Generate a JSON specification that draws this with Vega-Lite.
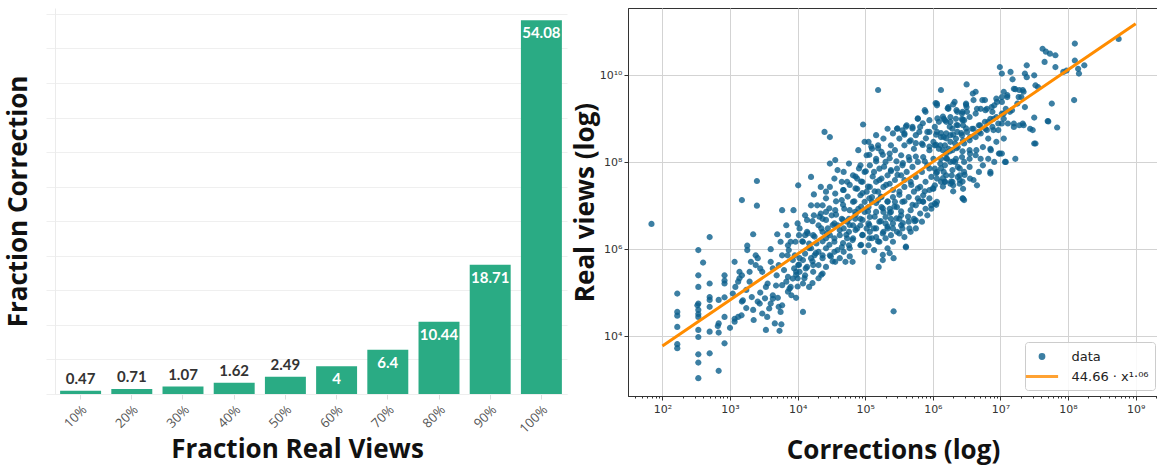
{
  "$schema": "https://vega.github.io/schema/vega-lite/v6.json",
  "background": "white",
  "padding": {"left": 5, "top": 7, "right": 0, "bottom": 6},
  "spacing": 4,
  "config": {"view": {"stroke": null}},
  "hconcat": [
    {
      "width": 512,
      "height": 386,
      "data": {"values": [
        {"fraction": "10%", "value": 0.47},
        {"fraction": "20%", "value": 0.71},
        {"fraction": "30%", "value": 1.07},
        {"fraction": "40%", "value": 1.62},
        {"fraction": "50%", "value": 2.49},
        {"fraction": "60%", "value": 4},
        {"fraction": "70%", "value": 6.4},
        {"fraction": "80%", "value": 10.44},
        {"fraction": "90%", "value": 18.71},
        {"fraction": "100%", "value": 54.08}
      ]},
      "encoding": {
        "x": {"field": "fraction", "type": "ordinal", "sort": null,
          "scale": {"paddingInner": 0.2, "paddingOuter": 0.1},
          "axis": {"title": "Fraction Real Views", "labelAngle": -45, "labelFont": "Open Sans", "labelFontSize": 13, "labelColor": "#555555",
            "tickColor": "#dddddd", "tickSize": 5, "domainColor": "#eeeeee", "labelPadding": 4,
            "titleFont": "Open Sans", "titleFontSize": 26, "titleFontWeight": "bold", "titleColor": "#111", "titlePadding": 1, "titleX": 242}},
        "y": {"field": "value", "type": "quantitative",
          "scale": {"domain": [0, 55.86], "nice": false, "zero": true},
          "axis": {"title": "Fraction Correction", "labels": false, "values": [0, 5, 10, 15, 20, 25, 30, 35, 40, 45, 50, 55],
            "grid": true, "gridColor": "#efefef", "tickColor": "#efefef", "tickSize": 9, "domainColor": "#ebebeb",
            "titleFont": "Open Sans", "titleFontSize": 26, "titleFontWeight": "bold", "titleColor": "#111", "titlePadding": 14}}
      },
      "layer": [
        {"mark": {"type": "bar", "color": "#2aab84"}},
        {"transform": [{"filter": "datum.value < 3"}],
          "mark": {"type": "text", "dy": -12, "font": "Lato", "fontWeight": "bold", "fontSize": 15, "color": "#333333"},
          "encoding": {"text": {"field": "value", "type": "quantitative", "format": "~g"}}},
        {"transform": [{"filter": "datum.value >= 3"}],
          "mark": {"type": "text", "dy": 13, "font": "Lato", "fontWeight": "bold", "fontSize": 15, "color": "white"},
          "encoding": {"text": {"field": "value", "type": "quantitative", "format": "~g"}}}
      ]
    },
    {
      "width": 530,
      "height": 388,
      "view": {"stroke": "#333333", "strokeWidth": 1},
      "layer": [
        {
          "data": {"values": [
            {"corrections":6.9e1,"views":3.8e6},{"corrections":5.0e2,"views":1.9e6},{"corrections":3.4e2,"views":9.5e5},{"corrections":3.4e2,"views":2.5e5},
            {"corrections":3.4e2,"views":1.35e5},{"corrections":3.4e2,"views":5.6e4},{"corrections":3.4e2,"views":4.0e4},{"corrections":3.4e2,"views":3.2e4},
            {"corrections":3.4e2,"views":2.75e4},{"corrections":3.4e2,"views":1.38e4},{"corrections":3.4e2,"views":9.5e3},{"corrections":3.4e2,"views":3.8e3},
            {"corrections":3.4e2,"views":2.45e3},{"corrections":3.4e2,"views":1.07e3},{"corrections":1.66e2,"views":9.5e4},{"corrections":1.66e2,"views":3.6e4},
            {"corrections":1.66e2,"views":2.95e4},{"corrections":1.66e2,"views":1.62e4},{"corrections":1.66e2,"views":6.5e3},{"corrections":1.66e2,"views":5.25e3},
            {"corrections":5.0e2,"views":1.62e5},{"corrections":5.0e2,"views":7.9e4},{"corrections":5.0e2,"views":6.8e4},{"corrections":5.0e2,"views":4.7e4},
            {"corrections":5.0e2,"views":1.26e4},{"corrections":5.0e2,"views":4.0e3},{"corrections":6.8e2,"views":1.58e3},{"corrections":4.0e2,"views":4.9e5},
            {"corrections":8.3e2,"views":2.5e5},{"corrections":8.3e2,"views":1.62e5},{"corrections":8.3e2,"views":7.8e4},{"corrections":8.3e2,"views":2.75e4},
            {"corrections":8.3e2,"views":6.8e3},{"corrections":6.8e2,"views":6.8e4},{"corrections":6.8e2,"views":1.95e4},{"corrections":6.8e2,"views":1.2e4},
            {"corrections":1.1e3,"views":9.5e4},{"corrections":1.17e3,"views":2.14e4},{"corrections":1.0e3,"views":1.55e4},
            {"corrections":1.5e3,"views":1.35e7},{"corrections":2.5e3,"views":3.7e7},{"corrections":2.5e3,"views":1.0e7},{"corrections":2.2e3,"views":2.2e6},
            {"corrections":1.8e3,"views":1.2e6},{"corrections":1.8e3,"views":9.5e5},{"corrections":2.4e3,"views":7.2e5},{"corrections":2.57e3,"views":6.2e5},
            {"corrections":2.4e3,"views":4.3e5},{"corrections":2.8e3,"views":3.6e5},{"corrections":1.95e3,"views":3.0e5},{"corrections":1.5e3,"views":2.5e5},
            {"corrections":1.38e3,"views":2.14e5},{"corrections":1.32e3,"views":1.78e5},{"corrections":1.2e3,"views":1.35e5},{"corrections":1.74e3,"views":1.15e5},
            {"corrections":2.1e3,"views":7.9e4},{"corrections":2.57e3,"views":6.2e4},{"corrections":3.3e3,"views":7.4e4},{"corrections":1.5e3,"views":6.2e4},
            {"corrections":1.74e3,"views":4.4e4},{"corrections":1.32e3,"views":2.75e4},{"corrections":1.48e3,"views":3.0e4},{"corrections":2.24e3,"views":2.34e4},
            {"corrections":2.2e3,"views":4.0e4},{"corrections":3.55e3,"views":2.75e4},{"corrections":4.6e3,"views":1.95e4},{"corrections":3.4e3,"views":1.38e4},
            {"corrections":5.4e3,"views":1.32e4},{"corrections":2.75e3,"views":5.6e4},{"corrections":4.0e3,"views":5.6e4},{"corrections":5.6e3,"views":3.6e4},
            {"corrections":5.25e3,"views":4.7e4},{"corrections":4.3e3,"views":8.7e4},{"corrections":2.8e3,"views":1.0e5},{"corrections":3.6e3,"views":1.62e5},
            {"corrections":4.0e3,"views":1.0e6},{"corrections":5.0e3,"views":2.2e6},{"corrections":5.6e3,"views":1.48e6},{"corrections":5.9e3,"views":7.9e6},
            {"corrections":7.2e3,"views":2.1e6},{"corrections":7.9e3,"views":1.48e6},{"corrections":7.4e3,"views":9.5e5},{"corrections":5.9e3,"views":7.2e5},
            {"corrections":5.25e3,"views":4.3e5},{"corrections":6.3e3,"views":3.3e5},{"corrections":7.2e3,"views":2.3e5},{"corrections":6.8e3,"views":1.78e5},
            {"corrections":7.9e3,"views":1.35e5},{"corrections":8.1e3,"views":8.7e4},{"corrections":9.5e3,"views":7.6e4},{"corrections":7.2e3,"views":1.05e5},
            {"corrections":5.9e3,"views":1.48e5},{"corrections":4.8e3,"views":1.45e5},{"corrections":4.9e3,"views":2.5e5},{"corrections":4.3e3,"views":3.6e5},
            {"corrections":4.0e3,"views":5.1e5},{"corrections":1.2e4,"views":3.6e4},{"corrections":8.7e3,"views":7.9e6},{"corrections":1.02e4,"views":2.95e7},
            {"corrections":1.0e4,"views":3.9e6},{"corrections":1.05e4,"views":2.1e6},{"corrections":9.1e3,"views":7.2e5},{"corrections":1.02e4,"views":4.3e5},
            {"corrections":1.07e4,"views":3.0e5},{"corrections":1.0e4,"views":2.14e5},{"corrections":1.2e4,"views":1.62e5},{"corrections":1.48e4,"views":1.35e5},
            {"corrections":1.29e4,"views":2.5e5},{"corrections":1.38e4,"views":3.9e5},{"corrections":1.2e4,"views":5.6e5},{"corrections":1.58e4,"views":6.2e5},
            {"corrections":1.29e4,"views":7.9e5},{"corrections":1.58e4,"views":1.05e6},{"corrections":1.9e4,"views":1.35e6},{"corrections":2.34e4,"views":7.2e5},
            {"corrections":2.04e4,"views":4.3e5},{"corrections":1.7e4,"views":3.0e5},{"corrections":2.04e4,"views":2.14e5},{"corrections":2.34e4,"views":2.75e5},
            {"corrections":2.63e4,"views":3.9e5},{"corrections":1.7e4,"views":2.1e6},{"corrections":1.38e4,"views":2.5e6},{"corrections":1.29e4,"views":6.0e6},
            {"corrections":1.58e4,"views":1.02e7},{"corrections":1.74e4,"views":1.82e7},{"corrections":1.58e4,"views":4.6e7},{"corrections":2.2e4,"views":2.7e7},
            {"corrections":2.5e4,"views":5.0e8},{"corrections":3.0e4,"views":3.8e8},{"corrections":2.63e4,"views":2.1e7},{"corrections":3.0e4,"views":9.3e7},
            {"corrections":3.6e4,"views":1.12e8},{"corrections":3.9e4,"views":6.6e7},{"corrections":3.5e4,"views":4.2e7},{"corrections":2.34e4,"views":1.02e7},
            {"corrections":2.63e4,"views":7.2e6},{"corrections":2.34e4,"views":5.0e6},{"corrections":3.2e4,"views":6.0e6},{"corrections":3.6e4,"views":7.9e6},
            {"corrections":3.5e4,"views":3.9e6},{"corrections":2.8e4,"views":3.0e6},{"corrections":2.63e4,"views":1.78e6},{"corrections":4.2e4,"views":2.1e6},
            {"corrections":3.5e4,"views":1.48e6},{"corrections":4.8e4,"views":3.0e6},{"corrections":5.4e4,"views":1.78e6},{"corrections":4.5e4,"views":1.12e6},
            {"corrections":3.5e4,"views":8.7e5},{"corrections":3.6e4,"views":5.1e5},{"corrections":5.1e4,"views":5.1e5},{"corrections":6.5e4,"views":5.1e5},
            {"corrections":4.8e4,"views":2.3e7},{"corrections":4.5e4,"views":1.35e7},{"corrections":4.9e4,"views":8.5e6},{"corrections":5.75e4,"views":5.0e6},
            {"corrections":7.1e4,"views":7.2e6},{"corrections":6.6e4,"views":1.23e7},{"corrections":7.6e4,"views":2.45e7},{"corrections":7.9e4,"views":1.9e8},
            {"corrections":9.3e4,"views":7.4e8},{"corrections":9.8e4,"views":2.95e8},{"corrections":1.05e5,"views":1.45e8},{"corrections":8.5e4,"views":8.5e7},
            {"corrections":9.8e4,"views":6.0e7},{"corrections":7.6e4,"views":4.2e7},{"corrections":9.1e4,"views":3.55e7},{"corrections":8.5e4,"views":1.74e7},
            {"corrections":9.8e4,"views":1.23e7},{"corrections":7.9e4,"views":8.5e6},{"corrections":8.5e4,"views":5.0e6},{"corrections":7.6e4,"views":3.0e6},
            {"corrections":9.1e4,"views":2.1e6},{"corrections":8.5e4,"views":1.23e6},{"corrections":9.8e4,"views":8.7e5},{"corrections":1.35e5,"views":9.5e5},
            {"corrections":1.58e5,"views":3.9e5},{"corrections":1.82e5,"views":5.6e5},{"corrections":2.63e5,"views":6.2e5},{"corrections":4.0e5,"views":1.1e6},
            {"corrections":2.63e5,"views":3.7e4},{"corrections":1.55e5,"views":4.6e9},{"corrections":1.12e5,"views":2.95e8},{"corrections":1.26e5,"views":2.04e8},
            {"corrections":1.55e5,"views":2.45e8},{"corrections":1.86e5,"views":3.5e8},{"corrections":1.74e5,"views":1.74e8},{"corrections":1.45e5,"views":1.2e8},
            {"corrections":1.17e5,"views":8.5e7},{"corrections":1.35e5,"views":6.0e7},{"corrections":1.62e5,"views":7.1e7},{"corrections":2.0e5,"views":1.02e8},
            {"corrections":2.3e5,"views":1.58e8},{"corrections":2.4e5,"views":2.45e8},{"corrections":2.95e5,"views":5.9e8},{"corrections":3.55e5,"views":5.4e8},
            {"corrections":4.1e5,"views":7.1e8},{"corrections":3.2e5,"views":3.5e8},{"corrections":2.75e5,"views":1.9e8},{"corrections":3.4e5,"views":1.45e8},
            {"corrections":3.8e5,"views":2.45e8},{"corrections":4.7e5,"views":3.2e8},{"corrections":5.6e5,"views":4.2e8},{"corrections":6.0e5,"views":1.0e9},
            {"corrections":6.5e5,"views":6.5e8},{"corrections":7.8e5,"views":1.45e9},{"corrections":8.3e5,"views":5.0e8},{"corrections":6.9e5,"views":2.7e8},
            {"corrections":5.25e5,"views":2.04e8},{"corrections":4.4e5,"views":1.32e8},{"corrections":3.55e5,"views":8.5e7},{"corrections":2.95e5,"views":7.1e7},
            {"corrections":2.4e5,"views":6.6e7},{"corrections":2.14e5,"views":5.0e7},{"corrections":1.74e5,"views":4.2e7},{"corrections":1.45e5,"views":3.55e7},
            {"corrections":1.17e5,"views":2.7e7},{"corrections":1.05e5,"views":2.1e7},{"corrections":1.26e5,"views":1.58e7},{"corrections":1.55e5,"views":2.1e7},
            {"corrections":1.86e5,"views":2.7e7},{"corrections":2.3e5,"views":3.2e7},{"corrections":2.75e5,"views":3.9e7},{"corrections":3.4e5,"views":5.0e7},
            {"corrections":4.1e5,"views":6.0e7},{"corrections":5.0e5,"views":7.8e7},{"corrections":6.0e5,"views":1.02e8},{"corrections":7.2e5,"views":1.32e8},
            {"corrections":8.9e5,"views":1.9e8},{"corrections":1.07e6,"views":2.45e8},{"corrections":1.02e6,"views":1.2e8},{"corrections":8.3e5,"views":8.5e7},
            {"corrections":6.9e5,"views":6.0e7},{"corrections":5.6e5,"views":4.6e7},{"corrections":4.7e5,"views":3.55e7},{"corrections":3.8e5,"views":2.7e7},
            {"corrections":3.2e5,"views":2.1e7},{"corrections":2.57e5,"views":1.58e7},{"corrections":2.14e5,"views":1.23e7},{"corrections":1.74e5,"views":9.3e6},
            {"corrections":1.45e5,"views":7.2e6},{"corrections":1.17e5,"views":5.5e6},{"corrections":1.12e5,"views":3.9e6},{"corrections":1.35e5,"views":3.0e6},
            {"corrections":1.62e5,"views":4.3e6},{"corrections":2.0e5,"views":5.5e6},{"corrections":2.4e5,"views":7.2e6},{"corrections":2.95e5,"views":9.3e6},
            {"corrections":3.55e5,"views":1.23e7},{"corrections":4.4e5,"views":1.58e7},{"corrections":5.25e5,"views":2.1e7},{"corrections":6.5e5,"views":2.7e7},
            {"corrections":7.8e5,"views":3.55e7},{"corrections":9.5e5,"views":4.6e7},{"corrections":1.15e6,"views":6.0e7},{"corrections":1.15e6,"views":1.23e7},
            {"corrections":9.5e5,"views":1.02e7},{"corrections":7.8e5,"views":8.5e6},{"corrections":6.5e5,"views":6.6e6},{"corrections":5.25e5,"views":5.0e6},
            {"corrections":4.4e5,"views":4.3e6},{"corrections":3.55e5,"views":3.0e6},{"corrections":2.95e5,"views":2.5e6},{"corrections":2.4e5,"views":2.1e6},
            {"corrections":2.0e5,"views":1.78e6},{"corrections":1.62e5,"views":1.48e6},{"corrections":1.26e5,"views":1.78e6},{"corrections":2.14e5,"views":3.0e6},
            {"corrections":2.57e5,"views":3.9e6},{"corrections":3.2e5,"views":5.0e6},{"corrections":4.7e5,"views":7.9e6},{"corrections":5.6e5,"views":1.02e7},
            {"corrections":5.6e5,"views":4.6e6},{"corrections":5.6e5,"views":3.0e6},{"corrections":4.7e5,"views":2.5e6},{"corrections":3.8e5,"views":1.9e6},
            {"corrections":6.0e5,"views":1.48e7},{"corrections":7.2e5,"views":1.74e7},{"corrections":8.9e5,"views":2.3e7},{"corrections":1.07e6,"views":2.95e7},
            {"corrections":1.32e6,"views":3.55e7},{"corrections":1.58e6,"views":5.0e7},{"corrections":1.95e6,"views":6.6e7},{"corrections":1.95e6,"views":3.55e7},
            {"corrections":2.5e6,"views":3.2e7},{"corrections":2.34e6,"views":4.6e7},{"corrections":2.9e6,"views":6.0e7},{"corrections":3.5e6,"views":7.8e7},
            {"corrections":4.0e6,"views":3.9e7},{"corrections":4.8e6,"views":6.0e7},{"corrections":5.5e6,"views":8.5e7},{"corrections":5.1e6,"views":1.2e8},
            {"corrections":4.3e6,"views":1.45e8},{"corrections":3.5e6,"views":1.2e8},{"corrections":2.9e6,"views":1.02e8},{"corrections":2.34e6,"views":7.8e7},
            {"corrections":2.2e6,"views":1.2e8},{"corrections":1.82e6,"views":1.02e8},{"corrections":1.51e6,"views":8.5e7},{"corrections":1.32e6,"views":1.2e8},
            {"corrections":1.58e6,"views":1.58e8},{"corrections":1.95e6,"views":1.9e8},{"corrections":2.34e6,"views":2.24e8},{"corrections":2.9e6,"views":2.7e8},
            {"corrections":3.5e6,"views":3.2e8},{"corrections":4.3e6,"views":3.8e8},{"corrections":5.1e6,"views":4.6e8},{"corrections":6.3e6,"views":5.5e8},
            {"corrections":7.6e6,"views":6.5e8},{"corrections":9.3e6,"views":7.8e8},{"corrections":8.7e6,"views":1.1e9},{"corrections":7.1e6,"views":1.0e9},
            {"corrections":5.9e6,"views":8.5e8},{"corrections":4.8e6,"views":7.1e8},{"corrections":4.0e6,"views":5.9e8},{"corrections":3.2e6,"views":5.0e8},
            {"corrections":2.7e6,"views":4.2e8},{"corrections":2.2e6,"views":3.5e8},{"corrections":1.82e6,"views":2.95e8},{"corrections":1.51e6,"views":2.45e8},
            {"corrections":1.23e6,"views":2.04e8},{"corrections":1.32e6,"views":3.8e8},{"corrections":1.58e6,"views":4.6e8},{"corrections":1.95e6,"views":5.9e8},
            {"corrections":2.34e6,"views":7.1e8},{"corrections":2.9e6,"views":9.3e8},{"corrections":3.5e6,"views":1.1e9},{"corrections":4.3e6,"views":1.32e9},
            {"corrections":5.1e6,"views":1.7e9},{"corrections":6.3e6,"views":1.7e9},{"corrections":7.6e6,"views":1.45e9},{"corrections":3.2e6,"views":1.45e9},
            {"corrections":2.7e6,"views":1.32e9},{"corrections":2.2e6,"views":1.0e9},{"corrections":1.82e6,"views":1.1e9},{"corrections":1.51e6,"views":9.3e8},
            {"corrections":1.23e6,"views":8.5e8},{"corrections":1.07e6,"views":6.5e8},{"corrections":1.15e6,"views":2.04e9},{"corrections":2.1e6,"views":2.45e9},
            {"corrections":1.7e6,"views":1.86e9},{"corrections":3.1e6,"views":2.24e9},{"corrections":4.0e6,"views":2.7e9},{"corrections":3.16e6,"views":6.2e9},
            {"corrections":1.32e6,"views":4.6e9},{"corrections":4.3e6,"views":4.2e9},{"corrections":5.9e6,"views":2.7e9},{"corrections":8.7e6,"views":2.9e9},
            {"corrections":8.1e6,"views":2.04e9},{"corrections":1.05e7,"views":2.45e9},{"corrections":1.26e7,"views":3.16e9},{"corrections":1.12e7,"views":4.2e9},
            {"corrections":9.8e6,"views":1.55e10},{"corrections":1.05e7,"views":1.1e10},{"corrections":1.41e7,"views":1.2e10},{"corrections":1.51e7,"views":8.1e9},
            {"corrections":1.66e7,"views":4.8e9},{"corrections":1.9e7,"views":4.6e9},{"corrections":2.14e7,"views":4.6e9},{"corrections":2.04e7,"views":3.16e9},
            {"corrections":2.3e7,"views":1.1e10},{"corrections":2.45e7,"views":1.7e10},{"corrections":2.45e7,"views":9.1e9},{"corrections":3.16e7,"views":1.0e10},
            {"corrections":3.3e7,"views":5.9e9},{"corrections":2.3e7,"views":1.86e9},{"corrections":1.78e7,"views":2.24e9},{"corrections":1.38e7,"views":1.45e9},
            {"corrections":1.2e7,"views":1.7e9},{"corrections":1.05e7,"views":1.32e9},{"corrections":1.12e7,"views":1.0e9},{"corrections":9.3e6,"views":5.5e8},
            {"corrections":1.12e7,"views":3.5e8},{"corrections":1.05e7,"views":1.58e8},{"corrections":1.2e7,"views":1.02e8},{"corrections":7.1e6,"views":2.04e8},
            {"corrections":8.7e6,"views":2.95e8},{"corrections":6.6e6,"views":3.5e8},{"corrections":1.29e7,"views":7.8e8},{"corrections":1.58e7,"views":6.5e8},
            {"corrections":1.9e7,"views":7.1e8},{"corrections":2.14e7,"views":7.8e8},{"corrections":2.75e7,"views":5.9e8},{"corrections":3.0e7,"views":5.5e8},
            {"corrections":3.16e7,"views":1.07e9},{"corrections":3.16e7,"views":2.7e8},{"corrections":5.0e7,"views":8.9e8},{"corrections":5.75e7,"views":2.24e9},
            {"corrections":6.9e7,"views":6.3e8},{"corrections":3.6e7,"views":5.4e9},{"corrections":4.2e7,"views":4.1e10},{"corrections":4.7e7,"views":3.5e10},
            {"corrections":5.4e7,"views":3.16e10},{"corrections":6.5e7,"views":2.9e10},{"corrections":4.5e7,"views":2.04e10},{"corrections":6.5e7,"views":1.55e10},
            {"corrections":8.5e7,"views":1.2e10},{"corrections":9.5e7,"views":1.29e10},{"corrections":1.26e8,"views":5.4e10},{"corrections":1.26e8,"views":2.2e10},
            {"corrections":1.41e8,"views":1.41e10},{"corrections":1.45e8,"views":1.1e10},{"corrections":1.74e8,"views":1.7e10},{"corrections":1.23e8,"views":2.7e9},
            {"corrections":5.6e8,"views":6.9e10},
            {"corrections":7.2e3,"views":1.23e6},{"corrections":8.5e3,"views":5.6e5},{"corrections":8.9e3,"views":3.6e5},{"corrections":1.07e4,"views":6.2e5},
            {"corrections":1.29e4,"views":2.1e6},{"corrections":1.48e4,"views":1.35e6},{"corrections":1.78e4,"views":7.2e5},{"corrections":1.7e4,"views":4.3e5},
            {"corrections":2.04e4,"views":8.7e5},{"corrections":2.63e4,"views":1.05e6},{"corrections":3.0e4,"views":7.2e5},{"corrections":4.2e4,"views":6.2e5},
            {"corrections":4.8e4,"views":8.7e5},{"corrections":5.75e4,"views":1.23e6},{"corrections":6.6e4,"views":1.78e6},{"corrections":5.75e4,"views":2.5e6},
            {"corrections":6.6e4,"views":3.55e6},{"corrections":5.4e4,"views":4.3e6},{"corrections":4.5e4,"views":5.0e6},{"corrections":3.9e4,"views":3.55e6},
            {"corrections":2.34e4,"views":2.5e6},{"corrections":2.04e4,"views":3.55e6},{"corrections":3.0e4,"views":2.1e6},{"corrections":9.8e4,"views":7.2e6},
            {"corrections":1.12e5,"views":9.3e6},{"corrections":1.26e5,"views":1.23e7},{"corrections":1.55e5,"views":1.35e7},{"corrections":1.74e5,"views":1.58e7},
            {"corrections":1.86e5,"views":7.2e6},{"corrections":2.0e5,"views":3.9e6},{"corrections":2.4e5,"views":5.0e6},{"corrections":2.3e5,"views":8.5e6},
            {"corrections":2.75e5,"views":1.23e7},{"corrections":3.4e5,"views":6.0e6},{"corrections":3.4e5,"views":3.55e6},{"corrections":2.57e5,"views":1.48e6},
            {"corrections":2.14e5,"views":1.05e6},{"corrections":1.86e5,"views":2.5e6},{"corrections":1.45e5,"views":1.9e6},{"corrections":1.17e5,"views":2.5e6},
            {"corrections":1.05e5,"views":3.0e6},{"corrections":1.12e5,"views":1.23e6},{"corrections":8.5e4,"views":3.55e6},{"corrections":7.1e4,"views":5.0e6},
            {"corrections":7.2e5,"views":1.23e7},{"corrections":8.3e5,"views":6.0e6},{"corrections":6.9e5,"views":4.3e6},{"corrections":9.5e5,"views":8.5e6},
            {"corrections":1.07e6,"views":1.12e7},{"corrections":1.82e6,"views":3.2e7},{"corrections":2.9e6,"views":1.35e7},{"corrections":2.5e6,"views":5.0e7},
            {"corrections":1.51e6,"views":3.55e7},{"corrections":7.1e6,"views":5.5e7},{"corrections":6.6e6,"views":1.2e8},{"corrections":9.8e6,"views":1.58e8},
            {"corrections":8.1e6,"views":1.02e8},
            {"corrections":5.75e4,"views":9.3e7},{"corrections":4.8e4,"views":6.0e7},{"corrections":6.6e4,"views":5.0e7},{"corrections":5.4e4,"views":3.55e7},
            {"corrections":4.5e4,"views":3.55e7},{"corrections":3.0e4,"views":2.7e7},{"corrections":3.6e4,"views":1.9e7},{"corrections":2.63e4,"views":1.48e7},
            {"corrections":1.95e4,"views":1.02e7},{"corrections":1.74e4,"views":6.0e6},{"corrections":2.2e4,"views":6.6e6},{"corrections":1.38e4,"views":4.7e6},
            {"corrections":1.07e4,"views":3.0e6},{"corrections":9.3e3,"views":1.48e6},{"corrections":1.2e4,"views":1.48e6},{"corrections":1.45e5,"views":4.2e8},
            {"corrections":2.14e5,"views":5.9e8},{"corrections":2.57e5,"views":4.6e8},{"corrections":3.8e5,"views":4.6e8},{"corrections":5.0e5,"views":6.5e8},
            {"corrections":3.3e2,"views":5.1e4},{"corrections":6.6e2,"views":1.7e4},{"corrections":8.3e2,"views":1.9e5},{"corrections":1.17e3,"views":5.1e5},
            {"corrections":1.17e3,"views":2.5e4},{"corrections":1.38e3,"views":3.0e5},{"corrections":1.55e3,"views":6.6e4},{"corrections":2.04e3,"views":5.1e5},
            {"corrections":1.95e3,"views":1.78e5},{"corrections":3.0e3,"views":3.0e5},{"corrections":3.0e3,"views":3.3e4},{"corrections":3.4e3,"views":1.35e5},
            {"corrections":3.8e3,"views":4.3e4},{"corrections":4.3e3,"views":7.2e4},{"corrections":5.1e3,"views":7.6e4},{"corrections":5.75e3,"views":1.86e4},
            {"corrections":5.9e3,"views":5.1e4},{"corrections":6.8e3,"views":3.55e6},{"corrections":7.1e3,"views":7.2e5},{"corrections":7.6e3,"views":1.23e5},
            {"corrections":8.5e3,"views":2.1e5},{"corrections":9.5e3,"views":3.0e5},
            {"corrections":1.1e6,"views":2.3e9},{"corrections":1.66e6,"views":1.74e9},{"corrections":2.0e6,"views":2.14e9},{"corrections":2.24e6,"views":1.58e9},
            {"corrections":2.75e6,"views":1.45e9},{"corrections":3.1e6,"views":2.1e9},{"corrections":7.6e5,"views":1.58e9},{"corrections":6.0e5,"views":1.02e9},
            {"corrections":7.1e5,"views":7.9e8},{"corrections":8.9e5,"views":9.3e8},{"corrections":1.17e6,"views":1.02e9},{"corrections":1.41e6,"views":1.12e9},
            {"corrections":1.58e6,"views":8.5e8},{"corrections":1.78e6,"views":6.6e8},{"corrections":2.24e6,"views":7.2e8},{"corrections":2.75e6,"views":9.3e8},
            {"corrections":3.1e6,"views":6.0e8},{"corrections":2.63e6,"views":4.7e8},{"corrections":2.0e6,"views":4.3e8},{"corrections":1.58e6,"views":3.55e8},
            {"corrections":1.32e6,"views":4.7e8},{"corrections":1.12e6,"views":4.3e8},{"corrections":8.9e5,"views":5.0e8},{"corrections":7.9e5,"views":3.55e8},
            {"corrections":6.3e5,"views":5.0e8},{"corrections":5.0e5,"views":6.0e8},{"corrections":4.0e5,"views":6.6e8},{"corrections":3.0e5,"views":6.0e8},
            {"corrections":3.8e5,"views":4.3e8},{"corrections":4.5e5,"views":3.0e8},{"corrections":5.6e5,"views":2.75e8},{"corrections":7.1e5,"views":2.5e8},
            {"corrections":8.9e5,"views":2.3e8},{"corrections":1.12e6,"views":2.5e8},{"corrections":1.41e6,"views":1.9e8},{"corrections":1.78e6,"views":1.78e8},
            {"corrections":2.24e6,"views":2.1e8},{"corrections":2.75e6,"views":1.78e8},{"corrections":3.5e6,"views":1.9e8},{"corrections":1.58e6,"views":1.23e8},
            {"corrections":2.0e6,"views":1.05e8},{"corrections":2.5e6,"views":7.2e7},{"corrections":2.95e6,"views":5.1e7},{"corrections":2.75e6,"views":3.6e7},
            {"corrections":1.86e6,"views":3.6e7},{"corrections":1.41e6,"views":4.3e7},{"corrections":1.12e6,"views":5.6e7},{"corrections":8.9e5,"views":7.2e7},
            {"corrections":1.32e6,"views":7.2e7},{"corrections":7.6e5,"views":1.05e8},{"corrections":5.6e5,"views":1.35e8},{"corrections":4.5e5,"views":1.12e8},
            {"corrections":3.6e5,"views":9.5e7},{"corrections":2.9e5,"views":1.05e8},{"corrections":2.3e5,"views":1.23e8},{"corrections":1.82e5,"views":1.48e8},
            {"corrections":1.55e5,"views":2.1e8},{"corrections":1.23e5,"views":2.3e8},{"corrections":1.15e5,"views":1.48e8},{"corrections":1.45e5,"views":1.05e8},
            {"corrections":1.9e5,"views":7.9e7},{"corrections":2.4e5,"views":6.2e7},{"corrections":3.0e5,"views":5.1e7},{"corrections":3.8e5,"views":3.9e7},
            {"corrections":4.8e5,"views":3.0e7},{"corrections":6.0e5,"views":2.5e7},{"corrections":7.6e5,"views":2.14e7},{"corrections":8.9e5,"views":1.48e7},
            {"corrections":6.3e5,"views":1.26e7},{"corrections":5.0e5,"views":1.05e7},{"corrections":3.8e5,"views":1.26e7},{"corrections":3.2e5,"views":1.78e7},
            {"corrections":2.57e5,"views":2.3e7},{"corrections":2.04e5,"views":3.0e7},{"corrections":1.62e5,"views":3.9e7},{"corrections":1.29e5,"views":4.7e7},
            {"corrections":1.02e5,"views":6.2e7},{"corrections":8.1e4,"views":7.2e7},{"corrections":7.2e4,"views":4.7e7},{"corrections":8.7e4,"views":3.6e7},
            {"corrections":1.1e5,"views":2.75e7},{"corrections":1.38e5,"views":2.14e7},{"corrections":1.7e5,"views":1.62e7},{"corrections":2.14e5,"views":1.26e7},
            {"corrections":2.7e5,"views":9.5e6},{"corrections":3.4e5,"views":7.4e6},{"corrections":4.3e5,"views":5.6e6},{"corrections":5.4e5,"views":4.4e6},
            {"corrections":4.5e5,"views":3.0e6},{"corrections":3.6e5,"views":4.0e6},{"corrections":2.9e5,"views":5.1e6},{"corrections":2.3e5,"views":6.8e6},
            {"corrections":1.82e5,"views":8.7e6},{"corrections":1.45e5,"views":1.15e7},{"corrections":1.15e5,"views":1.48e7},{"corrections":9.1e4,"views":1.95e7},
            {"corrections":7.2e4,"views":2.5e7},{"corrections":5.9e4,"views":3.0e7},{"corrections":4.7e4,"views":2.3e7},{"corrections":5.5e4,"views":1.62e7},
            {"corrections":6.9e4,"views":1.26e7},{"corrections":8.7e4,"views":9.5e6},{"corrections":1.1e5,"views":7.4e6},{"corrections":1.38e5,"views":5.6e6},
            {"corrections":1.7e5,"views":4.4e6},{"corrections":2.14e5,"views":3.3e6},{"corrections":1.82e5,"views":2.3e6},{"corrections":1.45e5,"views":3.0e6},
            {"corrections":1.15e5,"views":3.6e6},{"corrections":9.1e4,"views":4.7e6},{"corrections":7.2e4,"views":6.2e6},{"corrections":5.9e4,"views":7.9e6},
            {"corrections":4.7e4,"views":1.05e7},{"corrections":3.7e4,"views":1.26e7},{"corrections":2.95e4,"views":8.7e6},{"corrections":3.7e4,"views":6.2e6},
            {"corrections":4.7e4,"views":4.7e6},{"corrections":5.9e4,"views":3.6e6},{"corrections":7.2e4,"views":2.75e6},{"corrections":9.1e4,"views":2.14e6},
            {"corrections":1.15e5,"views":1.78e6},{"corrections":1.55e5,"views":1.51e6},{"corrections":8.7e4,"views":1.26e6},{"corrections":6.5e4,"views":1.62e6},
            {"corrections":5.25e4,"views":2.14e6},{"corrections":4.2e4,"views":2.75e6},{"corrections":3.3e4,"views":3.6e6},{"corrections":2.63e4,"views":4.7e6},
            {"corrections":2.1e4,"views":5.6e6},{"corrections":1.66e4,"views":4.4e6},{"corrections":2.24e4,"views":3.0e6},{"corrections":2.75e4,"views":2.3e6},
            {"corrections":3.5e4,"views":1.78e6},{"corrections":4.7e4,"views":1.38e6},{"corrections":5.9e4,"views":1.05e6},{"corrections":3.9e4,"views":9.5e5},
            {"corrections":2.95e4,"views":1.26e6},{"corrections":2.34e4,"views":1.51e6},{"corrections":1.78e4,"views":1.95e6},{"corrections":1.41e4,"views":2.3e6},
            {"corrections":1.17e4,"views":1.51e6},{"corrections":1.48e4,"views":1.05e6},{"corrections":1.86e4,"views":8.1e5},{"corrections":2.34e4,"views":6.2e5},
            {"corrections":3.1e4,"views":6.8e5},{"corrections":1.66e4,"views":5.25e5},{"corrections":1.32e4,"views":3.6e5},{"corrections":1.05e4,"views":4.4e5},
            {"corrections":9.5e3,"views":2.57e5},{"corrections":1.26e4,"views":2.14e5},{"corrections":1.66e4,"views":1.66e5},{"corrections":2.24e4,"views":2.57e5},
            {"corrections":1.0e4,"views":1.38e5},{"corrections":3.3e4,"views":5.25e5},{"corrections":5.9e4,"views":6.8e5},{"corrections":1.82e5,"views":7.4e5},
            {"corrections":2.3e5,"views":8.1e5},{"corrections":4.0e5,"views":1.15e6},{"corrections":3.2e5,"views":2.3e6},{"corrections":2.57e5,"views":3.0e6},
            {"corrections":7.1e5,"views":1.26e7},{"corrections":1.0e6,"views":2.5e7},{"corrections":1.41e6,"views":2.75e7},{"corrections":2.0e6,"views":2.14e7},
            {"corrections":1.12e6,"views":1.05e7},{"corrections":2.75e6,"views":1.48e7},
            {"corrections":1.15e6,"views":2.24e9},{"corrections":3.9e6,"views":3.8e9},{"corrections":2.3e6,"views":1.45e9},{"corrections":1.7e6,"views":1.7e9},
            {"corrections":1.45e6,"views":1.0e9},{"corrections":1.82e6,"views":8.5e8},{"corrections":2.7e6,"views":1.0e9},{"corrections":3.16e6,"views":1.86e9},
            {"corrections":4.5e6,"views":1.7e9},{"corrections":5.4e6,"views":2.7e9},{"corrections":6.0e6,"views":1.58e9},{"corrections":7.4e6,"views":1.86e9},
            {"corrections":8.9e6,"views":2.45e9},{"corrections":1.05e7,"views":3.16e9},{"corrections":1.26e7,"views":3.5e9},{"corrections":1.58e7,"views":4.9e9},
            {"corrections":1.86e7,"views":3.16e9},{"corrections":2.2e7,"views":4.2e9},{"corrections":1.48e7,"views":1.58e9},{"corrections":1.12e7,"views":1.32e9},
            {"corrections":7.9e6,"views":1.0e9},{"corrections":6.6e6,"views":8.5e8},{"corrections":5.0e6,"views":7.1e8},{"corrections":3.8e6,"views":5.9e8},
            {"corrections":2.8e6,"views":7.1e8},{"corrections":2.3e6,"views":5.0e8},{"corrections":1.82e6,"views":4.2e8},{"corrections":1.45e6,"views":3.8e8},
            {"corrections":1.15e6,"views":5.0e8},{"corrections":1.02e6,"views":2.95e8},{"corrections":1.29e6,"views":2.45e8},{"corrections":1.7e6,"views":2.04e8},
            {"corrections":2.14e6,"views":2.7e8},{"corrections":2.8e6,"views":3.2e8},{"corrections":3.55e6,"views":3.8e8},{"corrections":4.8e6,"views":5.0e8},
            {"corrections":6.0e6,"views":5.9e8},{"corrections":7.9e6,"views":5.5e8},{"corrections":1.05e7,"views":7.8e8},{"corrections":1.58e7,"views":7.8e8},
            {"corrections":2.2e7,"views":7.1e8},{"corrections":3.3e7,"views":2.7e8},{"corrections":1.66e7,"views":1.2e8},{"corrections":1.17e7,"views":1.02e8},
            {"corrections":9.5e6,"views":1.58e8},{"corrections":7.2e6,"views":1.9e8},{"corrections":5.5e6,"views":2.24e8},{"corrections":4.4e6,"views":1.9e8},
            {"corrections":3.55e6,"views":1.58e8},{"corrections":2.7e6,"views":1.32e8},{"corrections":2.14e6,"views":1.02e8},{"corrections":1.62e6,"views":1.2e8},
            {"corrections":1.29e6,"views":9.3e7},{"corrections":1.07e6,"views":7.1e7},{"corrections":1.45e6,"views":6.0e7},{"corrections":1.9e6,"views":5.0e7},
            {"corrections":2.5e6,"views":3.9e7},{"corrections":3.55e6,"views":4.2e7},{"corrections":4.5e6,"views":2.95e7},{"corrections":2.8e6,"views":2.45e7},
            {"corrections":2.0e6,"views":2.95e7},{"corrections":1.51e6,"views":3.55e7},{"corrections":1.15e6,"views":4.2e7},{"corrections":1.02e6,"views":2.45e7},
            {"corrections":2.8e6,"views":1.45e7},{"corrections":7.1e6,"views":6.0e7},{"corrections":5.1e7,"views":8.7e8}
          ]},
          "mark": {"type": "point", "filled": true, "size": 527, "opacity": 0.8},
          "encoding": {
            "x": {"field": "corrections", "type": "quantitative",
              "scale": {"type": "log", "domain": [31, 2.14e9], "nice": false},
              "axis": {"title": "Corrections (log)",
                "values": [40,50,60,70,80,90,100,200,300,400,500,600,700,800,900,1000,2000,3000,4000,5000,6000,7000,8000,9000,1e4,2e4,3e4,4e4,5e4,6e4,7e4,8e4,9e4,1e5,2e5,3e5,4e5,5e5,6e5,7e5,8e5,9e5,1e6,2e6,3e6,4e6,5e6,6e6,7e6,8e6,9e6,1e7,2e7,3e7,4e7,5e7,6e7,7e7,8e7,9e7,1e8,2e8,3e8,4e8,5e8,6e8,7e8,8e8,9e8,1e9,2e9],
                "labelExpr": "abs(log(datum.value)/LN10 - round(log(datum.value)/LN10)) < 0.001 ? '10' + ['⁰','¹','²','³','⁴','⁵','⁶','⁷','⁸','⁹'][round(log(datum.value)/LN10)] : ''",
                "labelOverlap": false, "labelFlush": false,
                "tickSize": {"condition": {"test": "abs(log(datum.value)/LN10 - round(log(datum.value)/LN10)) < 0.001", "value": 4}, "value": 2},
                "grid": true, "gridColor": "#d3d3d3",
                "gridOpacity": {"condition": {"test": "abs(log(datum.value)/LN10 - round(log(datum.value)/LN10)) < 0.001", "value": 1}, "value": 0},
                "domainColor": "#333333", "tickColor": "#333333", "labelColor": "#333333", "labelFont": "DejaVu Sans", "labelFontSize": 11, "labelPadding": 3,
                "titleFont": "Open Sans", "titleFontSize": 26, "titleFontWeight": "bold", "titleColor": "#111", "titlePadding": 23}},
            "y": {"field": "views", "type": "quantitative",
              "scale": {"type": "log", "domain": [417, 3.55e11], "nice": false},
              "axis": {"title": "Real views (log)", "values": [1e4, 1e6, 1e8, 1e10],
                "labelExpr": "datum.value >= 1e10 ? '10¹⁰' : datum.value >= 1e8 ? '10⁸' : datum.value >= 1e6 ? '10⁶' : '10⁴'",
                "grid": true, "gridColor": "#d3d3d3", "tickSize": 4,
                "domainColor": "#333333", "tickColor": "#333333", "labelColor": "#333333", "labelFont": "DejaVu Sans", "labelFontSize": 11, "labelPadding": 2,
                "titleFont": "Open Sans", "titleFontSize": 26, "titleFontWeight": "bold", "titleColor": "#111", "titlePadding": 1}},
            "shape": {"datum": "data", "type": "nominal",
              "scale": {"domain": ["data", "44.66 · x¹·⁰⁶"], "range": ["M0.27,0A0.27,0.27,0,1,1,-0.27,0A0.27,0.27,0,1,1,0.27,0Z", "M-2.3,0H2.3"]}},
            "color": {"datum": "data", "type": "nominal",
              "scale": {"domain": ["data", "44.66 · x¹·⁰⁶"], "range": ["#0b5f8c", "#ff8c00"]},
              "legend": {"title": null, "orient": "none", "legendX": 970, "legendY": 334,
                "labelFont": "DejaVu Sans", "labelFontSize": 13, "labelColor": "#222222",
                "symbolSize": 196, "symbolStrokeWidth": 3, "symbolOpacity": 0.85, "symbolOffset": 2.5, "labelOffset": 21, "rowPadding": 3, "padding": 6,
                "strokeColor": "#cccccc", "cornerRadius": 3, "fillColor": "rgba(255,255,255,0.85)"}}
          }
        },
        {
          "data": {"values": [
            {"corrections": 1e2, "views": 5.9e3},
            {"corrections": 1e3, "views": 6.76e4},
            {"corrections": 1e4, "views": 7.76e5},
            {"corrections": 1e5, "views": 8.9e6},
            {"corrections": 1e6, "views": 1.02e8},
            {"corrections": 1e7, "views": 1.17e9},
            {"corrections": 1e8, "views": 1.35e10},
            {"corrections": 1e9, "views": 1.55e11}
          ]},
          "mark": {"type": "line", "strokeWidth": 3},
          "encoding": {
            "x": {"field": "corrections", "type": "quantitative"},
            "y": {"field": "views", "type": "quantitative"},
            "color": {"datum": "44.66 · x¹·⁰⁶", "type": "nominal"}
          }
        }
      ]
    }
  ]
}
